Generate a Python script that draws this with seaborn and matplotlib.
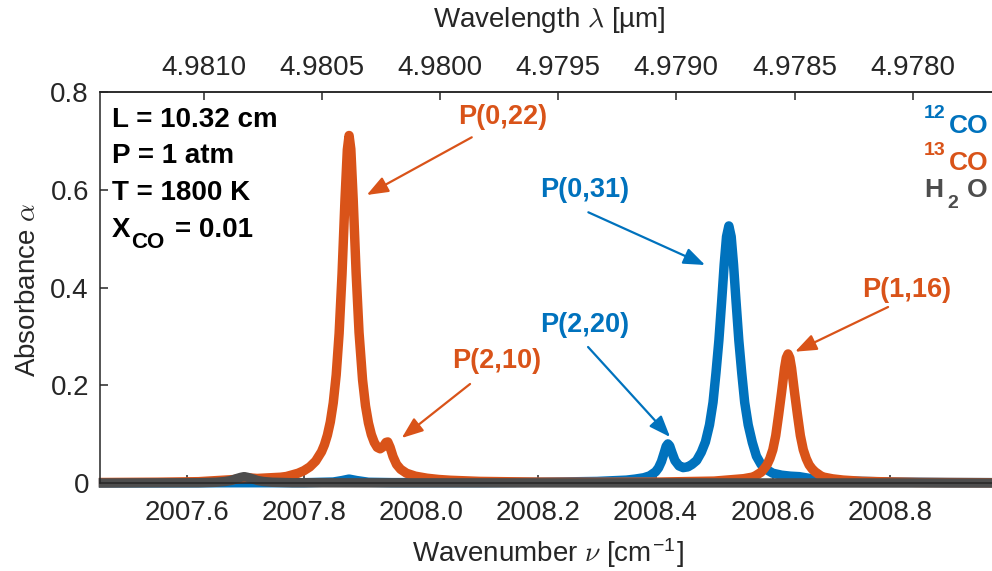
import numpy as np
import pandas as pd
import matplotlib
matplotlib.use("Agg")
import matplotlib.pyplot as plt
from matplotlib.ticker import FixedLocator, FormatStrFormatter, FuncFormatter
import seaborn as sns

# ---------------- data ----------------
nu_13co = [2007.45, 2007.55, 2007.62, 2007.68, 2007.70, 2007.72, 2007.76, 2007.77, 2007.79,
           2007.80, 2007.81, 2007.82, 2007.83, 2007.835, 2007.84, 2007.845, 2007.85, 2007.855,
           2007.86, 2007.865, 2007.87, 2007.874, 2007.877,
           2007.880, 2007.884, 2007.889, 2007.894, 2007.900, 2007.905, 2007.910, 2007.915,
           2007.920, 2007.925, 2007.930, 2007.935, 2007.940, 2007.943, 2007.947, 2007.952,
           2007.958, 2007.965, 2007.975, 2007.990, 2008.010, 2008.030, 2008.050, 2008.100,
           2008.200, 2008.300, 2008.400, 2008.500, 2008.550, 2008.565, 2008.570, 2008.580,
           2008.585, 2008.590, 2008.595, 2008.600, 2008.605,
           2008.610, 2008.615, 2008.620, 2008.623, 2008.626, 2008.629, 2008.632, 2008.637,
           2008.642, 2008.647, 2008.652, 2008.657, 2008.662, 2008.667, 2008.672, 2008.682,
           2008.687, 2008.702, 2008.720, 2008.752, 2008.800, 2008.850, 2008.975]
a_13co = [0.0010, 0.0016, 0.0027, 0.0070, 0.0110, 0.0093, 0.0118, 0.0133, 0.020,
          0.0253, 0.033, 0.0448, 0.064, 0.0784, 0.098, 0.125, 0.164, 0.221,
          0.306, 0.428, 0.580, 0.682, 0.711,
          0.683, 0.581, 0.430, 0.308, 0.211, 0.158, 0.123, 0.099,
          0.083, 0.073, 0.070, 0.074, 0.083, 0.084, 0.073, 0.054,
          0.038, 0.028, 0.020, 0.014, 0.0098, 0.0072, 0.0056, 0.0033,
          0.0018, 0.0015, 0.0018, 0.0039, 0.0088, 0.0120, 0.0145, 0.022,
          0.029, 0.037, 0.050, 0.068, 0.097,
          0.140, 0.186, 0.235, 0.256, 0.264, 0.256, 0.235, 0.186,
          0.140, 0.097, 0.068, 0.050, 0.037, 0.029, 0.023, 0.0145,
          0.0120, 0.0085, 0.0060, 0.0035, 0.0022, 0.0012, 0.0006]

nu_12co = [2007.45, 2007.80, 2007.85, 2007.865, 2007.877, 2007.89, 2007.91, 2007.95, 2008.10,
           2008.20, 2008.30, 2008.35, 2008.365, 2008.38, 2008.39, 2008.40, 2008.405, 2008.41,
           2008.415, 2008.418, 2008.421, 2008.424, 2008.428, 2008.433, 2008.44, 2008.447,
           2008.455, 2008.462, 2008.47, 2008.478, 2008.485, 2008.492, 2008.498, 2008.503,
           2008.508, 2008.513, 2008.517, 2008.521, 2008.525, 2008.529, 2008.533, 2008.537,
           2008.542, 2008.547, 2008.552, 2008.558, 2008.565, 2008.572, 2008.58, 2008.59,
           2008.60, 2008.615, 2008.63, 2008.645, 2008.66, 2008.68, 2008.72, 2008.80, 2008.90,
           2008.975]
a_12co = [0.0003, 0.0006, 0.002, 0.005, 0.008, 0.005, 0.0015, 0.0008, 0.0008,
          0.0015, 0.0032, 0.0059, 0.0080, 0.0108, 0.0147, 0.023, 0.031, 0.044,
          0.063, 0.075, 0.080, 0.076, 0.062, 0.046, 0.035, 0.0315,
          0.033, 0.038, 0.046, 0.063, 0.084, 0.119, 0.165, 0.225,
          0.292, 0.376, 0.447, 0.504, 0.526, 0.504, 0.447, 0.376,
          0.292, 0.225, 0.165, 0.119, 0.083, 0.055, 0.038, 0.027,
          0.020, 0.016, 0.014, 0.013, 0.010, 0.006, 0.0042, 0.002, 0.001,
          0.0007]

nu_h2o = [2007.45, 2007.62, 2007.65, 2007.665, 2007.675, 2007.685, 2007.692, 2007.698,
          2007.704, 2007.711, 2007.721, 2007.731, 2007.746, 2007.78, 2007.90, 2008.975]
a_h2o = [0.0, 0.0005, 0.0015, 0.003, 0.005, 0.009, 0.0115, 0.013,
         0.0115, 0.009, 0.005, 0.003, 0.0015, 0.0005, 0.0003, 0.0]

wn_ticks = [2007.6, 2007.8, 2008.0, 2008.2, 2008.4, 2008.6, 2008.8]
wl_ticks = [4.9810, 4.9805, 4.9800, 4.9795, 4.9790, 4.9785, 4.9780]
y_ticks = [0, 0.2, 0.4, 0.6, 0.8]

conditions = ["L = 10.32 cm", "P = 1 atm", "T = 1800 K"]
xco_parts = ["X", "CO", "= 0.01"]
species_iso = ["12", "13"]
species_base = ["CO", "CO"]
h2o_parts = ["H", "2", "O"]

# ---------------- style ----------------
BLUE = "#0072BD"
ORANGE = "#D95319"
GRAY = "#4D4D4D"
INK = "#262626"

sns.set_theme(style="ticks")
plt.rcParams["font.family"] = ["Liberation Sans", "DejaVu Sans"]
plt.rcParams["mathtext.fontset"] = "cm"
plt.rcParams["axes.edgecolor"] = INK
plt.rcParams["axes.linewidth"] = 1.1

FS = 20

fig = plt.figure(figsize=(9.92, 5.71), dpi=100)
ax = fig.add_axes([100 / 992, 88 / 571, 892 / 992, 391 / 571])

df12 = pd.DataFrame({"nu": nu_12co, "a": a_12co})
df13 = pd.DataFrame({"nu": nu_13co, "a": a_13co})
dfh2o = pd.DataFrame({"nu": nu_h2o, "a": a_h2o})

for df, col in [(df12, BLUE), (df13, ORANGE), (dfh2o, GRAY)]:
    sns.lineplot(data=df, x="nu", y="a", color=col, linewidth=6.8, ax=ax,
                 errorbar=None, sort=True)
    ln = ax.lines[-1]
    ln.set_clip_on(False)
    ln.set_solid_joinstyle("round")
    ln.set_solid_capstyle("butt")

ax.set_xlim(2007.452, 2008.974)
ax.set_ylim(0, 0.8)
ax.spines["right"].set_visible(False)

ax.xaxis.set_major_locator(FixedLocator(wn_ticks))
ax.xaxis.set_major_formatter(FormatStrFormatter("%.1f"))
ax.yaxis.set_major_locator(FixedLocator(y_ticks))
ax.yaxis.set_major_formatter(FuncFormatter(lambda v, p: "0" if v == 0 else f"{v:g}"))
ax.tick_params(axis="x", direction="in", length=6, width=1.1, top=False, bottom=True,
               labelsize=FS, pad=12, colors=INK)
ax.tick_params(axis="y", direction="in", length=6, width=1.1, right=False, left=True,
               labelsize=FS, pad=8, colors=INK)

ax.set_xlabel(r"Wavenumber $\nu$ [cm$^{\mathregular{-1}}$]", fontsize=FS, color=INK)
ax.xaxis.set_label_coords(548 / 992, (571 - 553) / 571, transform=fig.transFigure)
ax.xaxis.label.set_verticalalignment("center")
ax.set_ylabel(r"Absorbance $\alpha$", fontsize=FS, color=INK)
ax.yaxis.set_label_coords(28 / 992, (571 - 290) / 571, transform=fig.transFigure)
ax.yaxis.label.set_verticalalignment("center")

secax = ax.secondary_xaxis("top", functions=(lambda v: 1e4 / v, lambda v: 1e4 / v))
secax.xaxis.set_major_locator(FixedLocator(wl_ticks))
secax.xaxis.set_major_formatter(FormatStrFormatter("%.4f"))
secax.tick_params(axis="x", direction="in", length=6, width=1.1, labelsize=FS, pad=8,
                  colors=INK)
secax.set_xlabel(r"Wavelength $\lambda$ [µm]", fontsize=FS, color=INK)
secax.xaxis.set_label_coords(549 / 992, (571 - 20) / 571, transform=fig.transFigure)
secax.xaxis.label.set_verticalalignment("center")


def px(x, y):
    """figure-pixel position -> data coords of ax"""
    return (2007.452 + (x - 100) / 586.0, (483 - y) / 488.75)


# condition text block
for t, yb in zip(conditions, [127, 163, 200]):
    ax.text(*px(112, yb), t, fontsize=FS, fontweight="bold", color="black",
            ha="left", va="baseline")
ax.text(*px(112, 237), xco_parts[0], fontsize=FS, fontweight="bold", color="black",
        ha="left", va="baseline")
ax.text(*px(131, 248), xco_parts[1], fontsize=16, fontweight="bold", color="black",
        ha="left", va="baseline")
ax.text(*px(175, 237), xco_parts[2], fontsize=FS, fontweight="bold", color="black",
        ha="left", va="baseline")

# species legend
for iso, base, col, yb in zip(species_iso, species_base, [BLUE, ORANGE], [133, 170]):
    ax.text(*px(988, yb), base, fontsize=19, fontweight="bold", color=col,
            ha="right", va="baseline")
    ax.text(*px(945, yb - 15), iso, fontsize=14, fontweight="bold", color=col,
            ha="right", va="baseline")
ax.text(*px(924, 197), h2o_parts[0], fontsize=19, fontweight="bold", color=GRAY,
        ha="left", va="baseline")
ax.text(*px(947, 208), h2o_parts[1], fontsize=14, fontweight="bold", color=GRAY,
        ha="left", va="baseline")
ax.text(*px(987, 197), h2o_parts[2], fontsize=19, fontweight="bold", color=GRAY,
        ha="right", va="baseline")

# line annotations
ann = [
    ("P(0,22)", ORANGE, (503, 117), (471.7, 137.3), (366.7, 195)),
    ("P(2,10)", ORANGE, (497, 361), (470, 384), (401.7, 438)),
    ("P(1,16)", ORANGE, (907, 290), (888, 307), (795, 351.7)),
    ("P(0,31)", BLUE, (585, 190), (588.3, 212.3), (705, 265)),
    ("P(2,20)", BLUE, (585, 325), (588, 347), (670, 437)),
]
for name, col, tpos, tail, tip in ann:
    ax.text(*px(*tpos), name, fontsize=19.5, fontweight="bold", color=col,
            ha="center", va="center")
    ax.annotate("", xy=px(*tip), xytext=px(*tail),
                arrowprops=dict(arrowstyle="-|>,head_length=1.3,head_width=0.5",
                                color=col, lw=1.6, shrinkA=0, shrinkB=0,
                                mutation_scale=10))

fig.savefig("out.png", dpi=100)
